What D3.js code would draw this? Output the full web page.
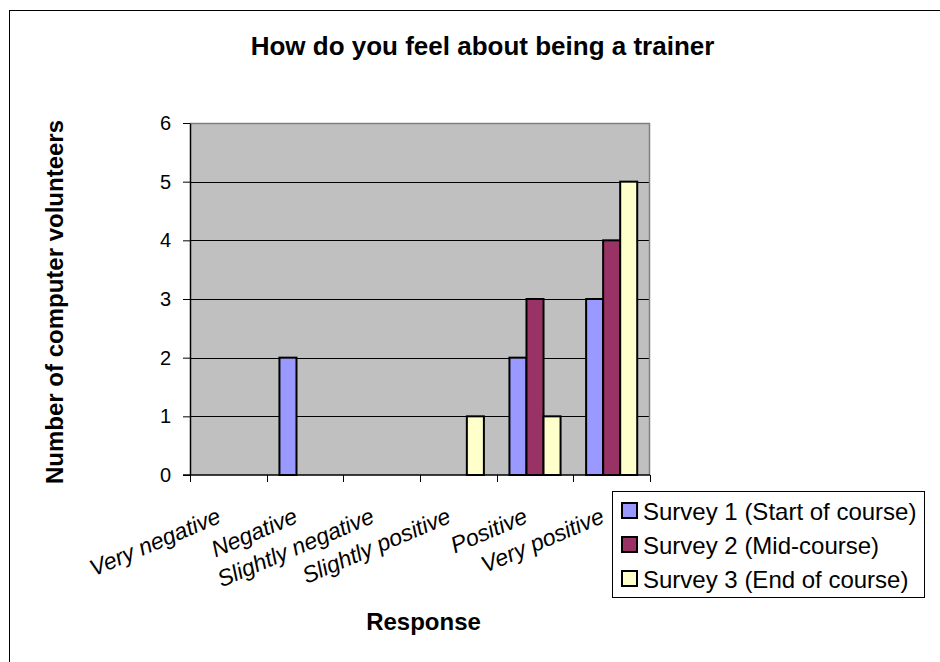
<!DOCTYPE html>
<html>
<head>
<meta charset="utf-8">
<script src="https://cdn.jsdelivr.net/npm/d3@7"></script>
<style>
  html, body { margin: 0; padding: 0; background: #ffffff; }
  svg { display: block; }
  text { font-family: "Liberation Sans", Arial, sans-serif; fill: #000; }
</style>
</head>
<body>
<svg id="chart" width="940" height="662"></svg>
<script>
// ---- data ----
const categories = ["Very negative", "Negative", "Slightly negative", "Slightly positive", "Positive", "Very positive"];
const seriesNames = ["Survey 1 (Start of course)", "Survey 2 (Mid-course)", "Survey 3 (End of course)"];
const survey1 = [0, 2, 0, 0, 2, 3];
const survey2 = [0, 0, 0, 0, 3, 4];
const survey3 = [0, 0, 0, 1, 1, 5];
const seriesColors = ["#9999FF", "#993366", "#FFFFCC"];
const yTicks = [0, 1, 2, 3, 4, 5, 6];
const titleText = "How do you feel about being a trainer";
const xTitle = "Response";
const yTitle = "Number of computer volunteers";

const seriesValues = [survey1, survey2, survey3];

const svg = d3.select("#chart");

// outer chart border
svg.append("rect")
  .attr("x", 9.5).attr("y", 10.5)
  .attr("width", 1000).attr("height", 700)
  .attr("fill", "#fff").attr("stroke", "#000").attr("stroke-width", 1);

const plot = { left: 190, right: 650, top: 123, bottom: 475 };

const x = d3.scaleBand().domain(categories).range([plot.left, plot.right]).paddingInner(0).paddingOuter(0);
const xs = d3.scaleBand().domain(seriesNames).range([0, x.bandwidth()]).paddingInner(0).paddingOuter(0.75);
const y = d3.scaleLinear().domain([0, 6]).range([plot.bottom, plot.top]);

// plot background
svg.append("rect")
  .attr("x", plot.left).attr("y", plot.top)
  .attr("width", plot.right - plot.left).attr("height", plot.bottom - plot.top)
  .attr("fill", "#C0C0C0");

// gridlines
svg.append("g").selectAll("line")
  .data(yTicks.filter(d => d > 0 && d < 6))
  .join("line")
  .attr("x1", plot.left).attr("x2", plot.right)
  .attr("y1", d => Math.round(y(d)) + 0.5).attr("y2", d => Math.round(y(d)) + 0.5)
  .attr("stroke", "#000").attr("stroke-width", 1);

// plot border top/right (gray)
svg.append("path")
  .attr("d", `M${plot.left},${plot.top + 0.5}H${plot.right - 0.5}V${plot.bottom}`)
  .attr("fill", "none").attr("stroke", "#808080").attr("stroke-width", 1.5);

// bars
const barData = [];
seriesValues.forEach((vals, si) => {
  vals.forEach((v, ci) => {
    if (v > 0) barData.push({ cat: categories[ci], series: seriesNames[si], si, v });
  });
});
svg.append("g").selectAll("rect")
  .data(barData)
  .join("rect")
  .attr("x", d => x(d.cat) + xs(d.series))
  .attr("y", d => y(d.v))
  .attr("width", xs.bandwidth())
  .attr("height", d => y(0) - y(d.v))
  .attr("fill", d => seriesColors[d.si])
  .attr("stroke", "#000").attr("stroke-width", 2);

// y axis
const yAxis = d3.axisLeft(y).tickValues(yTicks).tickFormat(d3.format("d"))
  .tickSizeInner(7).tickSizeOuter(0).tickPadding(12);
const gy = svg.append("g").attr("transform", `translate(${plot.left},0)`).call(yAxis);
gy.select(".domain").attr("stroke", "#000").attr("stroke-width", 1.5);
gy.selectAll(".tick line").attr("stroke", "#000");
gy.selectAll(".tick text").style("font-size", "20px").style("font-family", "'Liberation Sans', Arial, sans-serif").attr("fill", "#000");

// x axis line
svg.append("line")
  .attr("x1", plot.left - 7).attr("x2", plot.right)
  .attr("y1", plot.bottom).attr("y2", plot.bottom)
  .attr("stroke", "#000").attr("stroke-width", 1.5);

// x tick marks at category boundaries
const boundaries = categories.map(c => x(c)).concat([x.range()[1]]);
svg.append("g").selectAll("line")
  .data(boundaries)
  .join("line")
  .attr("x1", d => Math.round(d) + 0.5).attr("x2", d => Math.round(d) + 0.5)
  .attr("y1", plot.bottom).attr("y2", plot.bottom + 7)
  .attr("stroke", "#000").attr("stroke-width", 1);

// x tick labels (rotated, italic)
svg.append("g").selectAll("text")
  .data(categories)
  .join("text")
  .attr("transform", d => `translate(${x(d) + x.bandwidth() / 2 - 6},522) rotate(-23)`)
  .attr("text-anchor", "end")
  .style("font-size", "23px")
  .style("font-style", "italic")
  .text(d => d);

// title
svg.append("text")
  .attr("x", 482.5).attr("y", 55)
  .attr("text-anchor", "middle")
  .style("font-size", "26px").style("font-weight", "bold")
  .text(titleText);

// axis titles
svg.append("text")
  .attr("x", 423.5).attr("y", 630)
  .attr("text-anchor", "middle")
  .style("font-size", "24px").style("font-weight", "bold")
  .text(xTitle);

svg.append("text")
  .attr("transform", "translate(63,302) rotate(-90)")
  .attr("text-anchor", "middle")
  .style("font-size", "24px").style("font-weight", "bold")
  .text(yTitle);

// legend
const legend = svg.append("g");
legend.append("rect")
  .attr("x", 612.5).attr("y", 491.5).attr("width", 312).attr("height", 106)
  .attr("fill", "#fff").attr("stroke", "#000").attr("stroke-width", 1);
const rowY = d3.scalePoint().domain(seriesNames).range([511, 579]);
const items = legend.selectAll("g.item").data(seriesNames).join("g").attr("class", "item");
items.append("rect")
  .attr("x", 622).attr("y", d => rowY(d) - 8)
  .attr("width", 15).attr("height", 15)
  .attr("fill", (d, i) => seriesColors[i])
  .attr("stroke", "#000").attr("stroke-width", 2);
items.append("text")
  .attr("x", 643).attr("y", d => rowY(d) + 9)
  .style("font-size", "24px")
  .text(d => d);
</script>
</body>
</html>
